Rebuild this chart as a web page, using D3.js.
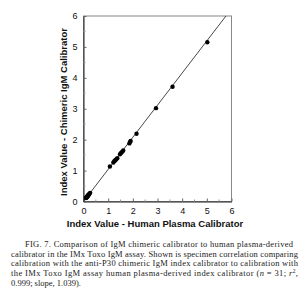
<!DOCTYPE html>
<html>
<head>
<meta charset="utf-8">
<script src="https://cdn.jsdelivr.net/npm/d3@7"></script>
<style>
  body { margin: 0; background: #fff; }
  svg { display: block; }
  .tick text { font-family: "Liberation Sans", Arial, sans-serif; font-size: 9px; fill: #111; }
  .titulo { font-family: "Liberation Sans", Arial, sans-serif; font-size: 9.5px; font-weight: bold; fill: #111; }
  .cap { font-family: "Liberation Serif", "Times New Roman", serif; font-size: 8.5px; fill: #222; }
</style>
</head>
<body>
<div id="graf"></div>
<script>
// Datos
const humano = [0.10, 0.11, 0.12, 0.13, 0.14, 0.15, 0.16, 0.17, 0.18, 0.19, 0.20, 0.22, 0.24, 0.27,
  1.07, 1.21, 1.25, 1.28, 1.32, 1.37, 1.48, 1.52, 1.57, 1.61, 1.86, 1.89, 1.91, 2.15,
  2.94, 3.61, 5.02]
const quimerico = [0.11, 0.12, 0.13, 0.14, 0.15, 0.16, 0.17, 0.18, 0.19, 0.20, 0.21, 0.23, 0.25, 0.28,
  1.13, 1.26, 1.30, 1.33, 1.36, 1.40, 1.53, 1.57, 1.61, 1.65, 1.88, 1.93, 1.96, 2.19,
  3.02, 3.71, 5.15]
const pendiente = 1.039
const ticks = [0, 1, 2, 3, 4, 5, 6]
const ticksMenores = [0.5, 1.5, 2.5, 3.5, 4.5, 5.5]
const tituloX = "Index Value - Human Plasma Calibrator"
const tituloY = "Index Value - Chimeric IgM Calibrator"

const data = humano.map((h, i) => ({ x: h, y: quimerico[i] }))

const svg = d3.select("#graf").append("svg").attr("width", 308).attr("height", 296)

// Escaladores
const x = d3.scaleLinear().domain([0, 6]).range([83.5, 231.5])
const y = d3.scaleLinear().domain([0, 6]).range([201.5, 16])

// Marco
svg.append("rect")
  .attr("x", x(0)).attr("y", y(6))
  .attr("width", x(6) - x(0)).attr("height", y(0) - y(6))
  .attr("fill", "none").attr("stroke", "#888").attr("stroke-width", 1)

// Ejes
const xAxis = d3.axisBottom(x).tickValues(ticks).tickFormat(d3.format("d")).tickSizeInner(-3).tickSizeOuter(0).tickPadding(6)
const gx = svg.append("g").attr("transform", `translate(0, ${y(0)})`).call(xAxis)
const yAxis = d3.axisLeft(y).tickValues(ticks).tickFormat(d3.format("d")).tickSizeInner(-3).tickSizeOuter(0).tickPadding(6)
const gy = svg.append("g").attr("transform", `translate(${x(0)}, 0)`).call(yAxis)
gx.select(".domain").attr("stroke", "#222")
gy.select(".domain").attr("stroke", "#222")
gx.selectAll(".tick line").attr("stroke", "#666")
gy.selectAll(".tick line").attr("stroke", "#666")

gx.selectAll(".menor").data(ticksMenores).join("line")
  .attr("x1", (d) => x(d)).attr("x2", (d) => x(d))
  .attr("y1", 0).attr("y2", -2).attr("stroke", "#999")
gy.selectAll(".menor").data(ticksMenores).join("line")
  .attr("y1", (d) => y(d)).attr("y2", (d) => y(d))
  .attr("x1", 0).attr("x2", 2).attr("stroke", "#999")

// Recta de regresión
svg.append("line")
  .attr("x1", x(0)).attr("y1", y(0))
  .attr("x2", x(6 / pendiente)).attr("y2", y(6))
  .attr("stroke", "#333").attr("stroke-width", 0.9)

// Puntos
svg.selectAll("circle").data(data).join("circle")
  .attr("cx", (d) => x(d.x)).attr("cy", (d) => y(d.y))
  .attr("r", 2.2).attr("fill", "#000")

// Títulos
svg.append("text").attr("class", "titulo")
  .attr("x", 155).attr("y", 227).attr("text-anchor", "middle").text(tituloX)
svg.append("text").attr("class", "titulo")
  .attr("transform", `translate(67, 112) rotate(-90)`)
  .attr("text-anchor", "middle").text(tituloY)

// Pie de figura
const lineas = [
  { x0: 25, x1: 293, partes: [["FIG. 7. Comparison of IgM chimeric calibrator to human plasma-derived"]] },
  { x0: 11, x1: 298, partes: [["calibrator in the IMx Toxo IgM assay. Shown is specimen correlation comparing"]] },
  { x0: 11, x1: 298, partes: [["calibration with the anti-P30 chimeric IgM index calibrator to calibration with"]] },
  { x0: 11, x1: 298, partes: [["the IMx Toxo IgM assay human plasma-derived index calibrator ("], ["n", "i"], [" = 31; "], ["r", "i"], ["2", "s"], [",", "b"]] },
  { x0: 11, x1: null, partes: [["0.999; slope, 1.039)."]] },
]
const cap = svg.append("g").attr("class", "cap")
lineas.forEach((l, i) => {
  const t = cap.append("text").attr("x", l.x0).attr("y", 247 + i * 9.7)
  if (l.x1) t.attr("textLength", l.x1 - l.x0).attr("lengthAdjust", "spacing")
  l.partes.forEach(([s, tipo]) => {
    const ts = t.append("tspan").text(s)
    if (tipo === "i") ts.attr("font-style", "italic")
    if (tipo === "s") ts.attr("font-size", "5.5px").attr("dy", -3)
    if (tipo === "b") ts.attr("dy", 3)
  })
})
</script>
</body>
</html>
